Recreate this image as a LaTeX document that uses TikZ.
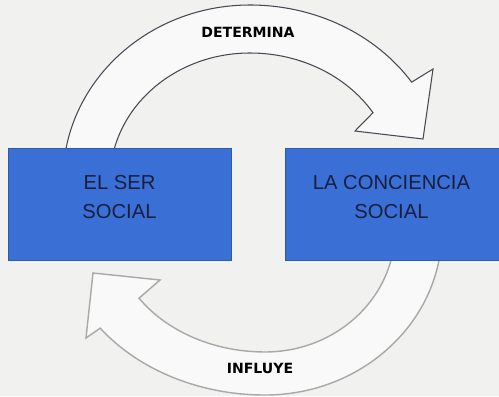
\documentclass[tikz,border=0pt]{standalone}
\usepackage{fontspec}
\setmainfont{Liberation Sans}
\newfontfamily\verbfont{DejaVu Sans}
\usepackage{tikz}
\usetikzlibrary{positioning,calc}
\definecolor{socialblue}{RGB}{58,112,214}
\definecolor{textnavy}{RGB}{24,30,62}
\definecolor{papergray}{RGB}{241,241,239}
\definecolor{outlinedark}{RGB}{72,72,82}
\definecolor{outlinelight}{RGB}{168,168,168}

\begin{document}
\begin{tikzpicture}[x=0.02cm, y=-0.02cm,
    socialbox/.style={fill=socialblue, draw=socialblue!80!black, line width=0.4pt, inner sep=0pt, minimum height=2.24cm},
    boxtext/.style={align=center, text=textnavy, font=\fontsize{11.5}{16.5}\selectfont},
    verblabel/.style={font=\verbfont\bfseries\fontsize{8}{9}\selectfont, text=black},
    blockarrow/.style={fill=papergray!40!white, line join=miter}]
    % Paper
    \fill[papergray] (0,0) rectangle (499,396);
    \useasboundingbox (0,0) rectangle (499,396);

    % Upper arrow
    \filldraw[blockarrow, draw=outlinedark, line width=0.6pt]
        (63,180) arc[start angle=180, end angle=270, x radius=187, y radius=175]
        arc[start angle=270, end angle=326, x radius=195, y radius=175]
        -- (433,69) -- (423,139) -- (355,131) -- (373,112.7)
        arc[start angle=328, end angle=270, x radius=145, y radius=127]
        arc[start angle=270, end angle=180, x radius=140, y radius=127]
        -- cycle;

    % Lower arrow
    \filldraw[blockarrow, draw=outlinelight, line width=0.8pt]
        (442,230) arc[start angle=0, end angle=90, x radius=177, y radius=165]
        arc[start angle=90, end angle=143.5, x radius=205, y radius=165]
        -- (86,338) -- (93,273) -- (160,280) -- (139,298.2)
        arc[start angle=146, end angle=90, x radius=152, y radius=122]
        arc[start angle=90, end angle=0, x radius=130, y radius=122]
        -- cycle;

    % Boxes
    \node[socialbox, minimum width=4.46cm] (ser) at (119.5,204) {};
    \node[socialbox, minimum width=4.3cm] (conciencia) at (392.5,204) {};
    \node[boxtext] (sertext) at ($(ser.center)+(0,-7)$) {EL SER\\SOCIAL};
    \node[boxtext] (concienciatext) at ($(conciencia.center)+(-1,-7)$) {LA CONCIENCIA\\SOCIAL};

    % Labels
    \node[verblabel] (determina) at (248,32) {DETERMINA};
    \node[verblabel] (influye) at (260,368) {INFLUYE};
\end{tikzpicture}
\end{document}
